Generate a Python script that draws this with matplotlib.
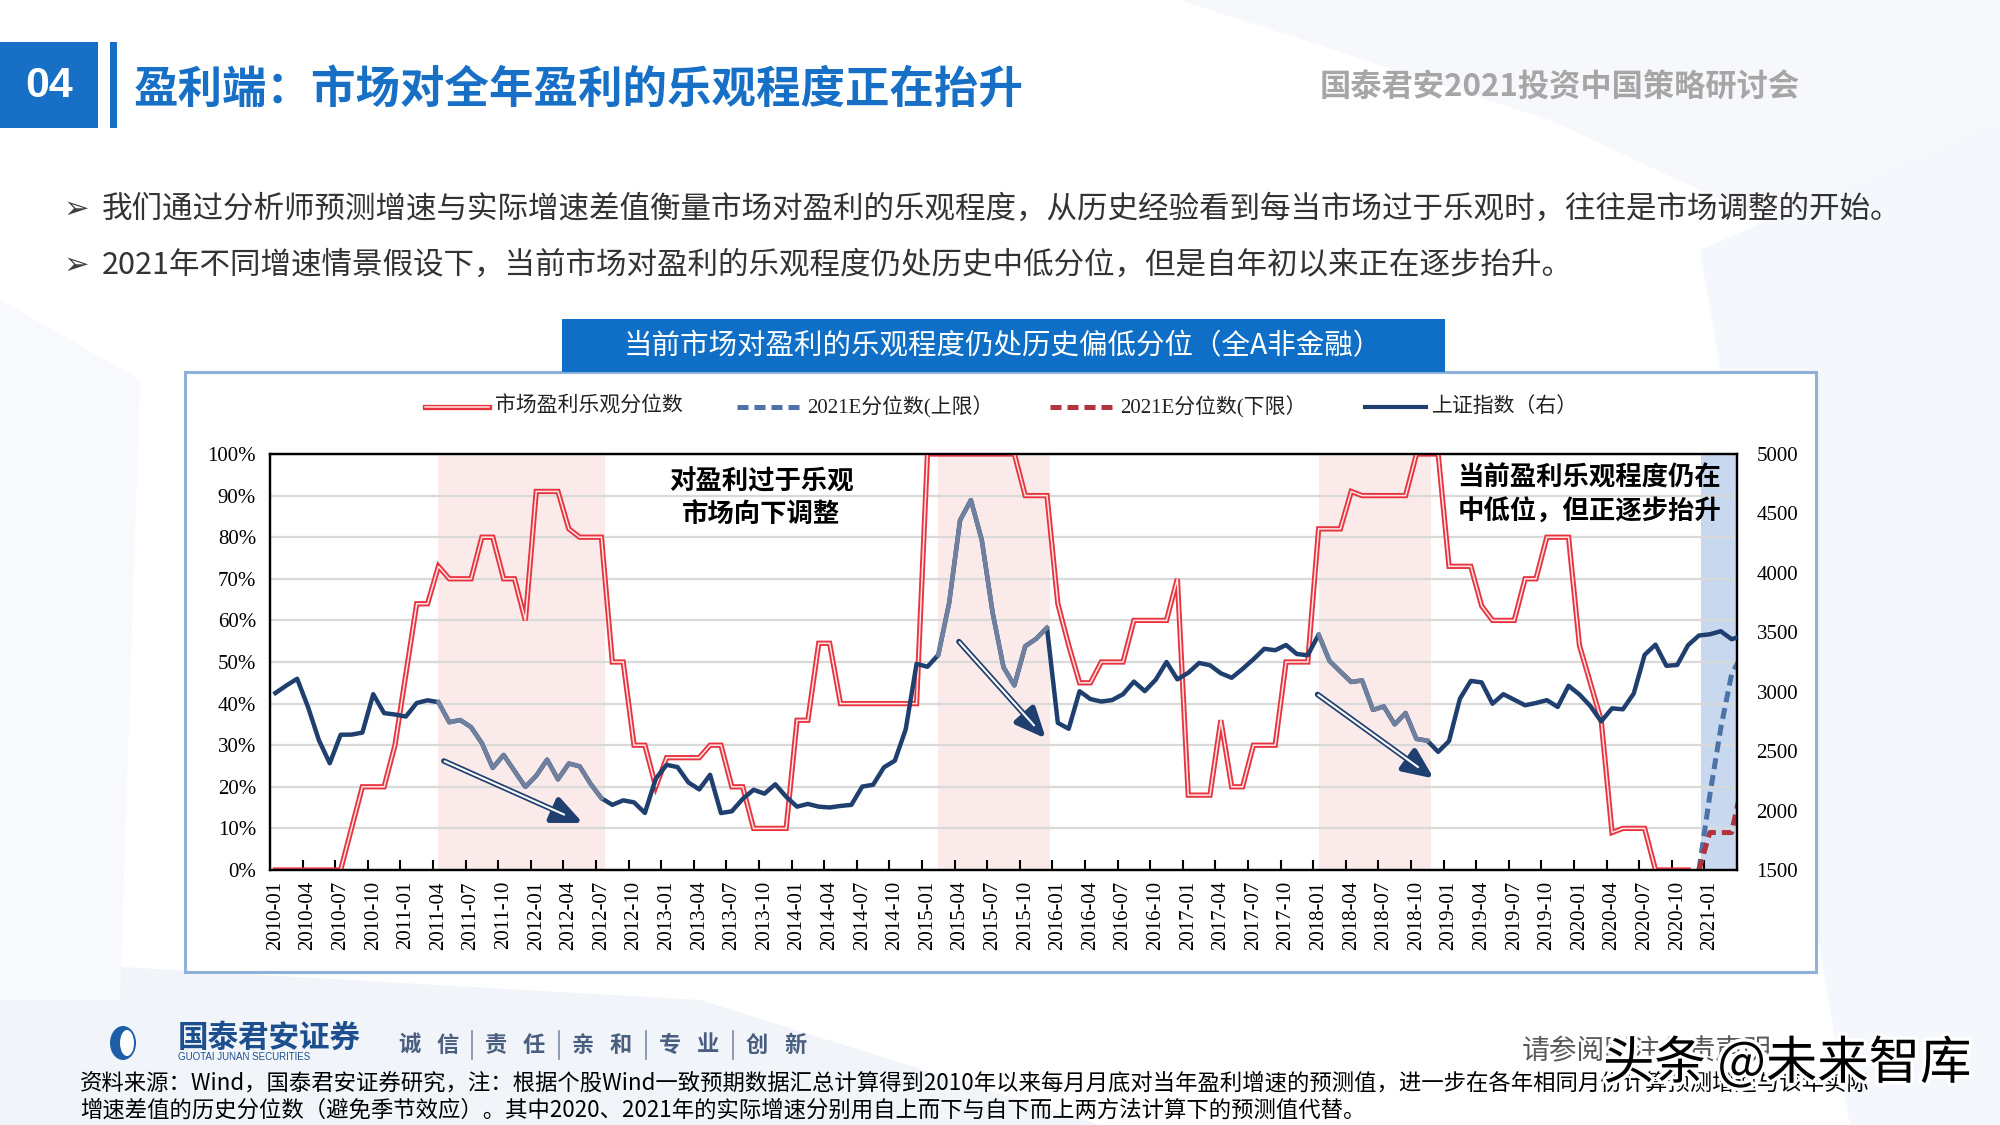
import numpy as np
import matplotlib
matplotlib.use("Agg")
import matplotlib.pyplot as plt
from matplotlib.lines import Line2D
from matplotlib.patches import Rectangle, Polygon, Ellipse
import matplotlib.patheffects as pe

plt.rcParams['font.family'] = ['Noto Sans CJK SC', 'DejaVu Sans']

# ---------------- data ----------------
months = [f"{y}-{m:02d}" for y in range(2010, 2022) for m in range(1, 13)][:136]

# 市场盈利乐观分位数 (%), 2010-01 .. 2020-11
optimism = [0, 0, 0, 0, 0, 0, 0, 10, 20, 20, 20, 30,
            47, 64, 64, 73, 70, 70, 70, 80, 80, 70, 70, 60,
            91, 91, 91, 82, 80, 80, 80, 50, 50, 30, 30, 20,
            27, 27, 27, 27, 30, 30, 20, 20, 10, 10, 10, 10,
            36, 36, 54.5, 54.5, 40, 40, 40, 40, 40, 40, 40, 40,
            100, 100, 100, 100, 100, 100, 100, 100, 100, 90, 90, 90,
            64, 54, 45, 45, 50, 50, 50, 60, 60, 60, 60, 70,
            18, 18, 18, 36, 20, 20, 30, 30, 30, 50, 50, 50,
            82, 82, 82, 91, 90, 90, 90, 90, 90, 100, 100, 100,
            73, 73, 73, 63.5, 60, 60, 60, 70, 70, 80, 80, 80,
            54, 45, 36, 9, 10, 10, 10, 0, 0, 0, 0]

# 2021E分位数 (上限 / 下限), 2020-12 .. 2021-04
est_months = ["2020-12", "2021-01", "2021-02", "2021-03", "2021-04"]
upper_2021e = [0, 18, 34, 47, 52]
lower_2021e = [0, 9, 9, 9, 21]

# 上证指数 month-end close, 2010-01 .. 2021-04
sse = [2989, 3052, 3109, 2871, 2592, 2398, 2638, 2639, 2656, 2979, 2820, 2808,
       2791, 2905, 2928, 2912, 2743, 2762, 2702, 2567, 2359, 2468, 2333, 2199,
       2293, 2428, 2263, 2396, 2372, 2225, 2104, 2048, 2086, 2069, 1980, 2269,
       2385, 2366, 2237, 2178, 2301, 1979, 1994, 2098, 2175, 2142, 2221, 2116,
       2033, 2056, 2033, 2026, 2039, 2048, 2202, 2217, 2364, 2420, 2683, 3235,
       3210, 3310, 3748, 4442, 4612, 4277, 3664, 3206, 3053, 3383, 3445, 3539,
       2738, 2688, 3004, 2938, 2917, 2930, 2979, 3085, 3005, 3100, 3250, 3104,
       3159, 3242, 3223, 3155, 3117, 3192, 3273, 3361, 3349, 3393, 3317, 3307,
       3481, 3259, 3169, 3082, 3095, 2847, 2876, 2725, 2821, 2603, 2588, 2494,
       2585, 2941, 3091, 3078, 2899, 2979, 2933, 2886, 2905, 2929, 2872, 3050,
       2977, 2880, 2750, 2860, 2852, 2985, 3310, 3396, 3218, 3225, 3392, 3473,
       3483, 3509, 3442, 3470]

# over-optimistic periods (shaded pink) and current period (shaded blue)
optimistic_periods = [("2011-04", "2012-07"), ("2015-02", "2015-12"), ("2018-01", "2018-11")]
current_period = ("2020-12", "2021-03")

tick_labels = months[0:133:3]

legend_labels = ["市场盈利乐观分位数", "2021E分位数(上限）", "2021E分位数(下限）", "上证指数（右）"]
slogan = ["诚信", "责任", "亲和", "专业", "创新"]

# ---------------- figure ----------------
W, H = 2000, 1125
fig = plt.figure(figsize=(20, 11.25), dpi=100)
fig.patch.set_facecolor("white")

def fx(x):
    return x / W

def fy(y):
    return 1 - y / H

# faint decorative background shapes
for pts, col in [
    ([(1180, 0), (2000, 0), (2000, 330), (1550, 120)], "#f6f8fb"),
    ([(1700, 250), (2000, 120), (2000, 1125), (1850, 1125)], "#f4f7fb"),
    ([(0, 960), (700, 1000), (1100, 1125), (0, 1125)], "#f1f5fa"),
    ([(0, 300), (140, 380), (120, 1000), (0, 1000)], "#f7f9fc"),
]:
    fig.patches.append(Polygon([(fx(a), fy(b)) for a, b in pts], closed=True,
                               transform=fig.transFigure, facecolor=col,
                               edgecolor="none", zorder=0))

BLUE = "#1770c6"
# header
fig.patches.append(Rectangle((fx(0), fy(128)), 98 / W, 86 / H, transform=fig.transFigure,
                             facecolor=BLUE, edgecolor="none"))
fig.patches.append(Rectangle((fx(110), fy(128)), 7 / W, 86 / H, transform=fig.transFigure,
                             facecolor=BLUE, edgecolor="none"))
fig.text(fx(49), fy(86), "04", color="white", fontsize=31, fontweight="bold",
         ha="center", va="center", family=["Liberation Sans", "DejaVu Sans"])
fig.text(fx(134), fy(90), "盈利端：市场对全年盈利的乐观程度正在抬升", color=BLUE,
         fontsize=32, fontweight="bold", ha="left", va="center")
fig.text(fx(1320), fy(88), "国泰君安2021投资中国策略研讨会", color="#a6a6a6",
         fontsize=22.5, fontweight="bold", ha="left", va="center")

# bullets
bullet_fam = ["Noto Sans CJK SC", "DejaVu Sans"]
for y, txt in [(209, "我们通过分析师预测增速与实际增速差值衡量市场对盈利的乐观程度，从历史经验看到每当市场过于乐观时，往往是市场调整的开始。"),
               (265, "2021年不同增速情景假设下，当前市场对盈利的乐观程度仍处历史中低分位，但是自年初以来正在逐步抬升。")]:
    fig.text(fx(64), fy(y), "➢", color="#404040", fontsize=22, ha="left", va="center",
             family=["DejaVu Sans"])
    fig.text(fx(102), fy(y), txt, color="#333333", fontsize=22, ha="left", va="center",
             family=bullet_fam)

# chart frame and title banner
fig.patches.append(Rectangle((fx(185), fy(972)), (1816 - 185) / W, (972 - 372) / H,
                             transform=fig.transFigure, facecolor="white",
                             edgecolor="#8eb0d9", linewidth=2.2, zorder=1))
fig.patches.append(Rectangle((fx(562), fy(372)), (1445 - 562) / W, (372 - 319) / H,
                             transform=fig.transFigure, facecolor="#0f6fc6",
                             edgecolor="none", zorder=2))
fig.text(fx(1003), fy(346), "当前市场对盈利的乐观程度仍处历史偏低分位（全A非金融）",
         color="white", fontsize=20.5, ha="center", va="center", zorder=3)

# ---------------- axes ----------------
ax = fig.add_axes([fx(270), fy(870), 1467 / W, 416 / H])
ax.set_zorder(3)
x_all = np.arange(len(months))
idx = {m: i for i, m in enumerate(months)}

for a, b in optimistic_periods:
    ax.axvspan(idx[a], idx[b] + 0.3, color="#fbeaea", lw=0, zorder=0)
ax.axvspan(idx[current_period[0]] + 0.2, idx[current_period[1]] + 0.5, color="#c8d9ef", lw=0, zorder=0)

ax.set_xlim(-0.5, 134.5)
ax.set_ylim(0, 100)
ax.set_yticks(np.arange(0, 101, 10))
ax.set_yticklabels([f"{v}%" for v in range(0, 101, 10)])
ax.yaxis.grid(True, color="#d9d9d9", lw=1.6, zorder=0.5)
ax.set_axisbelow(True)

RED = "#e8343f"
opt_x = x_all[:len(optimism)]
ax.plot(opt_x, optimism, color=RED, lw=3.8, zorder=3, solid_joinstyle="miter")
ax.plot(opt_x, optimism, color="#fde6e6", lw=1.1, zorder=3.1, solid_joinstyle="miter")

ex = [idx[m] for m in est_months]
ax.plot(ex, upper_2021e, color="#4d72a8", lw=3.6, ls=(0, (2.2, 1.2)), zorder=3.2)
ax.plot(ex, lower_2021e, color="#b2323e", lw=3.6, ls=(0, (2.2, 1.2)), zorder=3.2)

ax.set_xticks(x_all[0:133:3])
ax.set_xticklabels(tick_labels, rotation=90)
ax.set_xticks(np.arange(2.5, 134, 3), minor=True)
ax.tick_params(axis="x", which="major", length=0, pad=8, labelsize=15)
ax.tick_params(axis="x", which="minor", direction="in", length=7, width=1.5, color="black")
ax.tick_params(axis="y", length=0, pad=10, labelsize=15)
for lbl in ax.get_xticklabels() + ax.get_yticklabels():
    lbl.set_fontfamily("Liberation Serif")
for s in ax.spines.values():
    s.set_linewidth(1.6)
    s.set_color("black")

ax2 = ax.twinx()
ax2.set_ylim(1500, 5000)
ax2.set_yticks(np.arange(1500, 5001, 500))
ax2.tick_params(axis="y", length=0, pad=14, labelsize=15)
for lbl in ax2.get_yticklabels():
    lbl.set_fontfamily("Liberation Serif")
for s in ax2.spines.values():
    s.set_linewidth(1.6)
    s.set_color("black")

NAVY = "#1f3f6f"
GRAY = "#6f819f"
ax2.plot(x_all, sse, color=NAVY, lw=3.2, zorder=4, solid_joinstyle="round")
sse_arr = np.array(sse, dtype=float)
for a, b in optimistic_periods:
    i0, i1 = idx[a], idx[b]
    ax2.plot(x_all[i0:i1 + 1], sse_arr[i0:i1 + 1], color=GRAY, lw=3.2, zorder=4.1,
             solid_joinstyle="round")

# arrows (double-line shaft)
arrows = [((15.5, 26.2), (28.3, 11.3)), ((62.9, 54.9), (70.9, 31.6)), ((95.9, 42.2), (106.6, 22.0))]
for (x0, y0), (x1, y1) in arrows:
    ax.annotate("", xy=(x1, y1), xytext=(x0, y0),
                arrowprops=dict(arrowstyle="-|>,head_length=0.9,head_width=0.4",
                                color=NAVY, lw=4.0, shrinkA=0, shrinkB=0,
                                mutation_scale=20), zorder=5)
    t = 0.87
    ax.plot([x0, x0 + (x1 - x0) * t], [y0, y0 + (y1 - y0) * t], color="white", lw=1.5,
            zorder=5.1, solid_capstyle="butt")

ax2.text(44.7, 89.4, "对盈利过于乐观\n市场向下调整", ha="center", va="center",
         fontsize=19, fontweight="bold", color="black", linespacing=1.3,
         transform=ax.transData, zorder=6)
ax2.text(120.9, 90.1, "当前盈利乐观程度仍在\n中低位，但正逐步抬升", ha="center", va="center",
         fontsize=19, fontweight="bold", color="black", linespacing=1.3,
         transform=ax.transData, zorder=6)

# legend (manual)
leg_fam = ["Liberation Serif", "Noto Sans CJK SC"]
ly = 407
items = [(425, 489, 495, "red"), (737, 801, 807, "ub"), (1050, 1114, 1120, "lb"), (1365, 1426, 1432, "navy")]
for (x0, x1, xt, kind), lab in zip(items, legend_labels):
    xs, ys = [fx(x0), fx(x1)], [fy(ly), fy(ly)]
    if kind == "red":
        fig.add_artist(Line2D(xs, ys, color=RED, lw=3.8, transform=fig.transFigure))
        fig.add_artist(Line2D(xs, ys, color="#fde6e6", lw=1.1, transform=fig.transFigure))
    elif kind == "ub":
        fig.add_artist(Line2D(xs, ys, color="#4d72a8", lw=3.6, ls=(0, (2.2, 1.2)),
                              transform=fig.transFigure))
    elif kind == "lb":
        fig.add_artist(Line2D(xs, ys, color="#b2323e", lw=3.6, ls=(0, (2.2, 1.2)),
                              transform=fig.transFigure))
    else:
        fig.add_artist(Line2D(xs, ys, color=NAVY, lw=3.0, transform=fig.transFigure))
    fig.text(fx(xt), fy(ly), lab, fontsize=15, ha="left", va="center", color="#222222",
             family=leg_fam)

# footer
fig.patches.append(Ellipse((fx(123), fy(1043)), 26 / W, 34 / H, transform=fig.transFigure,
                           facecolor="#1d5ea8", edgecolor="none"))
fig.patches.append(Ellipse((fx(127), fy(1043)), 14 / W, 26 / H, transform=fig.transFigure,
                           facecolor="white", edgecolor="none"))
fig.text(fx(178), fy(1038), "国泰君安证券", fontsize=22, fontweight="bold", color="#1d4f8f",
         ha="left", va="center")
fig.text(fx(178), fy(1057), "GUOTAI JUNAN SECURITIES", fontsize=7, color="#1d4f8f",
         ha="left", va="center", family=["Liberation Sans"])
for k, word in enumerate(slogan):
    base = 398 + k * 87
    fig.text(fx(base), fy(1045), word[0], fontsize=16, fontweight="bold", color="#4a5f80",
             ha="left", va="center")
    fig.text(fx(base + 38), fy(1045), word[1], fontsize=16, fontweight="bold", color="#4a5f80",
             ha="left", va="center")
    if k < len(slogan) - 1:
        fig.add_artist(Line2D([fx(base + 74), fx(base + 74)], [fy(1031), fy(1059)],
                              color="#7a8aa5", lw=1.2, transform=fig.transFigure))
fig.text(fx(1522), fy(1051), "请参阅附注免责声明", fontsize=20, color="#595959",
         ha="left", va="center")
fig.text(fx(80), fy(1083),
         "资料来源：Wind，国泰君安证券研究，注：根据个股Wind一致预期数据汇总计算得到2010年以来每月月底对当年盈利增速的预测值，进一步在各年相同月份计算预测增速与该年实际",
         fontsize=16.1, color="black", ha="left", va="center")
fig.text(fx(80), fy(1110),
         "增速差值的历史分位数（避免季节效应）。其中2020、2021年的实际增速分别用自上而下与自下而上两方法计算下的预测值代替。",
         fontsize=16.1, color="black", ha="left", va="center")
fig.text(fx(1603), fy(1064), "头条 @未来智库", fontsize=37, color="black", ha="left",
         va="center", path_effects=[pe.withStroke(linewidth=5, foreground="white")])

fig.savefig("out.png", dpi=100)
